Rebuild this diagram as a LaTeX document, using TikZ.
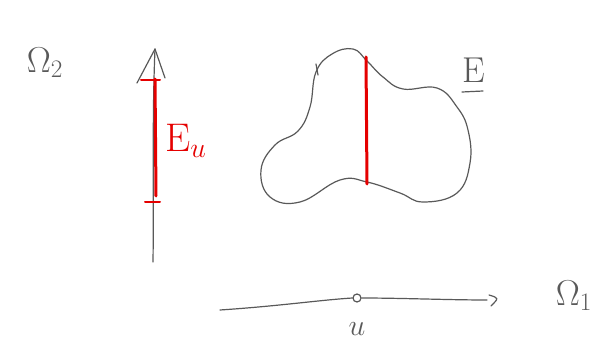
\RequirePackage{fix-cm}
\documentclass[tikz,border=0pt]{standalone}
\begin{document}
\begin{tikzpicture}[x=1pt,y=-1pt,
  pencil/.style={draw=black!65, line width=1.2pt, line cap=round, line join=round},
  redpen/.style={draw=red!90!black, line width=3pt, line cap=round},
  graylbl/.style={text=black!65, inner sep=0pt, font=\fontsize{36}{36}\selectfont},
  redlbl/.style={text=red!90!black, inner sep=0pt, font=\fontsize{40}{40}\selectfont}]
\useasboundingbox (0,0) rectangle (611,342);
% vertical axis
\coordinate (vbot) at (153,262);
\coordinate (vtop) at (155,49);
\coordinate (vl) at (137,83);
\coordinate (vr) at (165,78);
\draw[pencil] (vbot) .. controls (154,190) and (152,120) .. (vtop);
\draw[pencil] (vl) -- (vtop) -- (vr);
% E_u segment
\coordinate (eut) at (155,79);
\coordinate (eub) at (156,196);
\draw[redpen] (eut) -- (eub);
\draw[red!90!black, line width=2pt, line cap=round] (141,80) -- (160,80);
\draw[red!90!black, line width=2pt, line cap=round] (145,202) -- (160,202);
\node[redlbl, anchor=west] (Eu) at (165,141) {$\mathrm{E}_u$};
% Omega_2
\node[graylbl] (O2) at (45,63) {$\Omega_2$};
% blob E
\draw[pencil] plot[smooth cycle, tension=0.7] coordinates {(353,49) (367,61) (383,77) (403,89) (437,88) (457,107) (468,130) (470,163) (457,193) (423,202) (400,193) (367,182) (340,180) (300,202) (270,197) (261,170) (275,145) (298,131) (310,107) (316,72) (332,54)};
\draw[pencil] (316,64) -- (318,75);
\coordinate (lt) at (366,57);
\coordinate (lb) at (367,184);
\draw[redpen] (lt) -- (lb);
\node[graylbl] (E) at (474,70) {E};
\draw[pencil] (462,92) -- (483,91);
% horizontal axis
\coordinate (hl) at (220,310);
\coordinate (hr) at (487,300);
\node[circle, draw=black!65, line width=1.2pt, minimum size=8pt, inner sep=0pt] (u) at (357,298) {};
\draw[pencil] (hl) .. controls (280,306) and (320,300) .. (u.west);
\draw[pencil] (u.east) .. controls (400,298) and (450,300) .. (hr);
\draw[pencil] (489,295) .. controls (499,298) .. (491,306);
\node[graylbl, font=\fontsize{30}{30}\selectfont] (ulbl) at (357,329) {$u$};
\node[graylbl] (O1) at (574,296) {$\Omega_1$};
\end{tikzpicture}
\end{document}
